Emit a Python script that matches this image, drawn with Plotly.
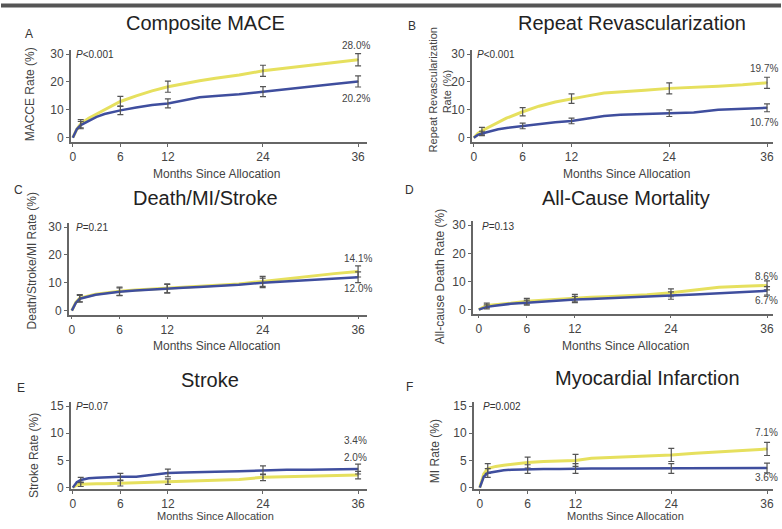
import plotly.graph_objects as go

W, H = 782, 529

months = [0, 0.5, 1, 2, 3, 4, 6, 8, 10, 12, 14, 16, 18, 21, 24, 27, 30, 33, 36]
err_months = [1, 6, 12, 24, 36]
x_ticks = [0, 6, 12, 24, 36]

# Panel A: Composite MACE
mace_pci = [0, 3, 5, 7, 8.5, 10, 13, 15, 16.8, 18.3, 19.4, 20.4, 21.3, 22.5, 24, 25, 26, 27, 28.0]
mace_cabg = [0, 3, 4.5, 6, 7.5, 8.5, 9.8, 10.8, 11.7, 12.3, 13.4, 14.5, 15, 15.6, 16.5, 17.5, 18.5, 19.3, 20.2]
mace_err_pci = [1.5, 1.8, 2.0, 2.0, 2.2]
mace_err_cabg = [1.3, 1.5, 1.6, 1.8, 2.0]

# Panel B: Repeat Revascularization
rr_pci = [0, 1.5, 2.5, 4, 5.5, 7, 9.3, 11.3, 12.8, 14, 15, 16, 16.5, 17, 17.7, 18, 18.5, 19, 19.7]
rr_cabg = [0, 1, 1.5, 2.3, 3, 3.5, 4.2, 4.8, 5.5, 6, 6.8, 7.8, 8.2, 8.5, 8.8, 9, 10, 10.3, 10.7]
rr_err_pci = [1.2, 1.5, 1.7, 2.0, 2.0]
rr_err_cabg = [0.8, 1.0, 1.0, 1.2, 1.4]

# Panel C: Death/MI/Stroke
dms_pci = [0, 3, 4.5, 5.3, 5.9, 6.3, 7, 7.4, 7.7, 8, 8.3, 8.6, 9, 9.6, 10.5, 11.5, 12.5, 13.3, 14.1]
dms_cabg = [0, 2.8, 4.3, 5.1, 5.7, 6.1, 6.8, 7.2, 7.6, 7.9, 8.2, 8.5, 8.8, 9.3, 10, 10.5, 11, 11.5, 12.0]
dms_err_pci = [1.3, 1.5, 1.6, 1.8, 2.0]
dms_err_cabg = [1.2, 1.4, 1.5, 1.7, 1.9]

# Panel D: All-Cause Mortality
acm_pci = [0, 0.8, 1.5, 1.8, 2, 2.3, 3, 3.4, 3.8, 4.2, 4.4, 4.6, 4.8, 5.3, 6, 7, 8, 8.3, 8.6]
acm_cabg = [0, 0.5, 1, 1.4, 1.8, 2.1, 2.5, 2.9, 3.3, 3.6, 3.8, 4, 4.3, 4.6, 5, 5.4, 5.8, 6.2, 6.7]
acm_err_pci = [0.8, 1.0, 1.2, 1.4, 1.6]
acm_err_cabg = [0.7, 0.9, 1.1, 1.3, 1.5]

# Panel E: Stroke
str_pci = [0, 0.5, 0.6, 0.7, 0.7, 0.7, 0.8, 0.8, 0.9, 1.1, 1.2, 1.3, 1.4, 1.5, 1.9, 2.0, 2.1, 2.2, 2.3]
str_cabg = [0, 1.0, 1.4, 1.7, 1.8, 1.9, 2.0, 2.0, 2.4, 2.7, 2.8, 2.8, 2.9, 3.0, 3.2, 3.3, 3.3, 3.4, 3.4]
str_err_pci = [0.4, 0.5, 0.5, 0.6, 0.7]
str_err_cabg = [0.5, 0.6, 0.7, 0.8, 0.9]

# Panel F: Myocardial Infarction
mi_pci = [0, 2.5, 3.5, 3.9, 4.1, 4.3, 4.6, 4.8, 4.9, 5.0, 5.4, 5.5, 5.6, 5.8, 6.0, 6.3, 6.6, 6.9, 7.1]
mi_cabg = [0, 2.0, 2.7, 3.0, 3.2, 3.3, 3.4, 3.4, 3.4, 3.5, 3.5, 3.5, 3.5, 3.5, 3.5, 3.5, 3.6, 3.6, 3.6]
mi_err_pci = [0.9, 1.0, 1.1, 1.2, 1.2]
mi_err_cabg = [0.8, 0.8, 0.9, 0.9, 0.9]

YELLOW = "#e6e05e"
BLUE = "#3f4e9e"
GRAY = "#555555"
FONT = "Liberation Sans, Arial, sans-serif"

panels = [
    dict(letter="A", title="Composite MACE", ytitle=["MACCE Rate (%)"], pval="<i>P</i><0.001",
         pci=mace_pci, cabg=mace_cabg, epci=mace_err_pci, ecabg=mace_err_cabg,
         lab_pci="28.0%", lab_cabg="20.2%", ymax=30, yticks=[0, 10, 20, 30],
         px=(72, 358, 70, 367), py=(137, 52, 141.5, 48),
         title_xy=(205, 20), letter_xy=(28, 32), ytitle_xy=[(29, 93)], xtitle_xy=(216, 174),
         lab_pci_xy=(356, 43), lab_cabg_xy=(356, 97), p_xy=(74, 52)),
    dict(letter="B", title="Repeat Revascularization", ytitle=["Repeat Revascularization", "Rate (%)"],
         pval="<i>P</i><0.001",
         pci=rr_pci, cabg=rr_cabg, epci=rr_err_pci, ecabg=rr_err_cabg,
         lab_pci="19.7%", lab_cabg="10.7%", ymax=30, yticks=[0, 10, 20, 30],
         px=(474, 768, 472, 774), py=(137, 52, 141.5, 48),
         title_xy=(633, 20), letter_xy=(412, 23), ytitle_xy=[(433, 88), (448, 90)], xtitle_xy=(627, 174),
         lab_pci_xy=(765, 67), lab_cabg_xy=(765, 122), p_xy=(476, 52)),
    dict(letter="C", title="Death/MI/Stroke", ytitle=["Death/Stroke/MI Rate (%)"], pval="<i>P</i>=0.21",
         pci=dms_pci, cabg=dms_cabg, epci=dms_err_pci, ecabg=dms_err_cabg,
         lab_pci="14.1%", lab_cabg="12.0%", ymax=30, yticks=[0, 10, 20, 30],
         px=(71, 358, 68, 367), py=(313, 228, 317, 224),
         title_xy=(205, 198), letter_xy=(18, 190), ytitle_xy=[(31, 262)], xtitle_xy=(216, 349),
         lab_pci_xy=(358, 260), lab_cabg_xy=(358, 290), p_xy=(74, 228)),
    dict(letter="D", title="All-Cause Mortality", ytitle=["All-cause Death Rate (%)"], pval="<i>P</i>=0.13",
         pci=acm_pci, cabg=acm_cabg, epci=acm_err_pci, ecabg=acm_err_cabg,
         lab_pci="8.6%", lab_cabg="6.7%", ymax=30, yticks=[0, 10, 20, 30],
         px=(479, 768, 473, 774), py=(312, 226, 316, 222),
         title_xy=(627, 198), letter_xy=(410, 190), ytitle_xy=[(440, 278)], xtitle_xy=(626, 349),
         lab_pci_xy=(767, 278), lab_cabg_xy=(767, 303), p_xy=(481, 227)),
    dict(letter="E", title="Stroke", ytitle=["Stroke Rate (%)"], pval="<i>P</i>=0.07",
         pci=str_pci, cabg=str_cabg, epci=str_err_pci, ecabg=str_err_cabg,
         lab_pci="2.0%", lab_cabg="3.4%", ymax=15, yticks=[0, 5, 10, 15],
         px=(72, 358, 70, 367), py=(493, 410, 494.5, 406),
         title_xy=(210, 384), letter_xy=(20, 392), ytitle_xy=[(33, 460)], xtitle_xy=(215, 522),
         lab_pci_xy=(355, 462), lab_cabg_xy=(355, 445), p_xy=(74, 410)),
    dict(letter="F", title="Myocardial Infarction", ytitle=["MI Rate (%)"], pval="<i>P</i>=0.002",
         pci=mi_pci, cabg=mi_cabg, epci=mi_err_pci, ecabg=mi_err_cabg,
         lab_pci="7.1%", lab_cabg="3.6%", ymax=15, yticks=[0, 5, 10, 15],
         px=(480, 768, 474, 774), py=(493, 410, 494.5, 406),
         title_xy=(648, 381), letter_xy=(410, 391), ytitle_xy=[(435, 456)], xtitle_xy=(626, 522),
         lab_pci_xy=(767, 437), lab_cabg_xy=(767, 483), p_xy=(482, 410)),
]

fig = go.Figure()
annotations = []
layout_axes = {}


def ann(text, xy, size, color="#333333", xanchor="center", angle=0):
    annotations.append(dict(text=text, x=xy[0] / W, y=1 - xy[1] / H, xref="paper", yref="paper",
                            showarrow=False, xanchor=xanchor, yanchor="middle", textangle=angle,
                            borderpad=0, font=dict(family=FONT, size=size, color=color)))


for i, p in enumerate(panels):
    n = i + 1
    xa = "x" if n == 1 else f"x{n}"
    ya = "y" if n == 1 else f"y{n}"
    x0p, x36p, xlo_p, xhi_p = p["px"]
    y0p, ytop_p, ylo_p, yhi_p = p["py"]
    sx = (x36p - x0p) / 36.0
    sy = (y0p - ytop_p) / p["ymax"]
    xlo = (xlo_p - x0p) / sx
    xhi = (xhi_p - x0p) / sx
    ylo = (y0p - ylo_p) / sy
    yhi = (y0p - yhi_p) / sy
    xdom = [xlo_p / W, xhi_p / W]
    ydom = [1 - ylo_p / H, 1 - yhi_p / H]

    common = dict(showgrid=False, zeroline=False, showline=True, linecolor="#666666", linewidth=1.5,
                  ticks="outside", ticklen=3, tickcolor="#666666", tickwidth=1.2,
                  tickfont=dict(family=FONT, size=12, color="#444444"))
    layout_axes["xaxis" if n == 1 else f"xaxis{n}"] = dict(
        domain=xdom, range=[xlo, xhi], anchor=ya, tickvals=x_ticks, **common)
    layout_axes["yaxis" if n == 1 else f"yaxis{n}"] = dict(
        domain=ydom, range=[ylo, yhi], anchor=xa, tickvals=p["yticks"], **common)

    for vals, errs, col, w in ((p["pci"], p["epci"], YELLOW, 3), (p["cabg"], p["ecabg"], BLUE, 2.5)):
        fig.add_trace(go.Scatter(x=months, y=vals, mode="lines", line=dict(color=col, width=w),
                                 xaxis=xa, yaxis=ya, showlegend=False, hoverinfo="skip"))
        centers = [vals[months.index(m)] for m in err_months]
        fig.add_trace(go.Scatter(x=err_months, y=centers, mode="markers",
                                 marker=dict(size=1, color=GRAY),
                                 error_y=dict(type="data", array=errs, visible=True, color=GRAY,
                                              thickness=1.2, width=3),
                                 xaxis=xa, yaxis=ya, showlegend=False, hoverinfo="skip"))

    ann(p["title"], p["title_xy"], 20, "#222222")
    ann(p["letter"], p["letter_xy"], 12, "#333333")
    ann(p["pval"], p["p_xy"], 10, "#333333", xanchor="left")
    ann(p["lab_pci"], p["lab_pci_xy"], 10, "#444444")
    ann(p["lab_cabg"], p["lab_cabg_xy"], 10, "#444444")
    for line, xy in zip(p["ytitle"], p["ytitle_xy"]):
        ann(line, xy, 12 if len(p["ytitle"]) == 1 else 11, "#444444", angle=-90)
    ann("Months Since Allocation", p["xtitle_xy"], 11 if n >= 5 else 12, "#444444")

fig.update_layout(
    width=W, height=H, margin=dict(l=0, r=0, t=0, b=0),
    paper_bgcolor="white", plot_bgcolor="white",
    annotations=annotations,
    shapes=[dict(type="line", xref="paper", yref="paper", x0=0, x1=1, y0=1 - 2.5 / H, y1=1 - 2.5 / H,
                 line=dict(color="#555555", width=4))],
    **layout_axes,
)

fig.write_html("out.html", config={"displayModeBar": False},
               post_script="document.body.style.margin='0';document.body.style.padding='0';")
